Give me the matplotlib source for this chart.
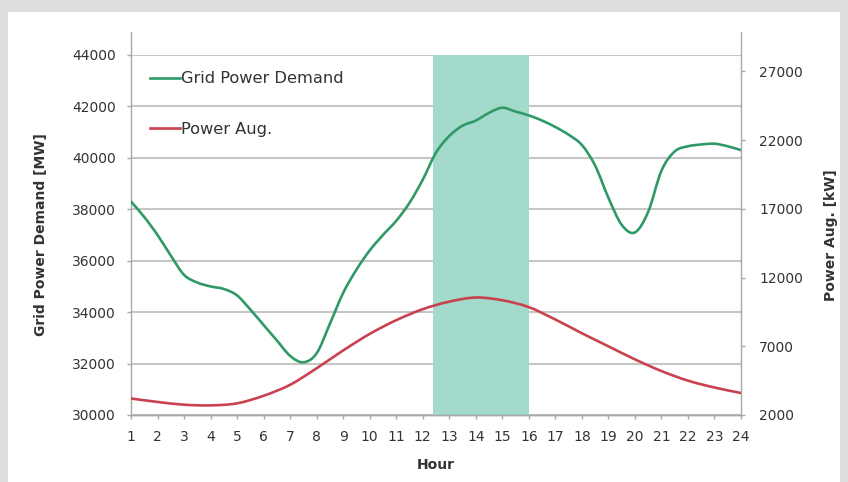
import matplotlib
matplotlib.use("Agg")
import matplotlib.pyplot as plt
from matplotlib.patches import Rectangle, PathPatch
from matplotlib.path import Path
from matplotlib.lines import Line2D

# ---- data ----
hours_demand = [1, 1.5, 2, 2.5, 3, 3.5, 4, 4.5, 5, 5.5, 6, 6.5, 7, 7.5, 8, 8.5,
                9, 9.5, 10, 10.5, 11, 11.5, 12, 12.5, 13, 13.5, 14, 14.5, 15,
                15.5, 16, 16.5, 17, 17.5, 18, 18.5, 19, 19.5, 20, 20.5, 21,
                21.5, 22, 22.5, 23, 23.5, 24]
grid_demand = [38300, 37700, 37000, 36200, 35450, 35150, 35000, 34900, 34650,
               34100, 33500, 32900, 32300, 32050, 32400, 33550, 34750, 35650,
               36400, 37000, 37550, 38250, 39150, 40200, 40850, 41250, 41450,
               41750, 41950, 41800, 41650, 41450, 41200, 40900, 40500, 39700,
               38450, 37400, 37100, 37900, 39500, 40250, 40450, 40520, 40550,
               40450, 40300]

hours_aug = list(range(1, 25))
power_aug = [3200, 2950, 2750, 2700, 2850, 3400, 4200, 5400, 6700, 7900, 8900,
             9700, 10250, 10550, 10350, 9850, 8950, 7950, 7000, 6050, 5200,
             4500, 4000, 3600]

peak_window = [12.4, 16.0]
left_ticks = [30000, 32000, 34000, 36000, 38000, 40000, 42000, 44000]
right_ticks = [2000, 7000, 12000, 17000, 22000, 27000]
x_ticks = list(range(1, 25))

GREEN = "#2f9a68"
RED = "#c9424f"
SHADE = "#a4dacb"
TXT = "#333333"
GRID = "#c6c6c6"
SPINE = "#a8a8a8"


def smooth_path(xs, ys):
    """Excel-style smoothed line: cubic Bezier segments through the points."""
    n = len(xs)
    verts = [(xs[0], ys[0])]
    codes = [Path.MOVETO]
    for i in range(n - 1):
        x0, y0 = (xs[i - 1], ys[i - 1]) if i > 0 else (xs[i], ys[i])
        x1, y1 = xs[i], ys[i]
        x2, y2 = xs[i + 1], ys[i + 1]
        x3, y3 = (xs[i + 2], ys[i + 2]) if i + 2 < n else (x2, y2)
        c1 = (x1 + (x2 - x0) / 6.0, y1 + (y2 - y0) / 6.0)
        c2 = (x2 - (x3 - x1) / 6.0, y2 - (y3 - y1) / 6.0)
        verts += [c1, c2, (x2, y2)]
        codes += [Path.CURVE4] * 3
    return Path(verts, codes)


fig = plt.figure(figsize=(8.48, 4.82), dpi=100)
fig.patch.set_facecolor("#dedede")
fig.patches.append(Rectangle((8 / 848, 0), (840 - 8) / 848, 1 - 12 / 482,
                             transform=fig.transFigure, facecolor="white",
                             edgecolor="none", zorder=-10))

L, R, T, B = 131, 741, 55, 415
ax1 = fig.add_axes([L / 848, 1 - B / 482, (R - L) / 848, (B - T) / 482])
ax1.set_facecolor("none")
ax2 = ax1.twinx()
ax2.set_facecolor("none")

ax1.axvspan(peak_window[0], peak_window[1], color=SHADE, zorder=1, lw=0)
ax1.add_patch(PathPatch(smooth_path(hours_demand, grid_demand), facecolor="none",
                        edgecolor=GREEN, lw=1.9, zorder=3, capstyle="round"))
ax2.add_patch(PathPatch(smooth_path(hours_aug, power_aug), facecolor="none",
                        edgecolor=RED, lw=1.9, zorder=3, capstyle="round"))

ax1.set_xlim(1, 24)
ax1.set_ylim(30000, 44000)
ax2.set_ylim(2000, 28200)
ax1.set_xticks(x_ticks)
ax1.set_yticks(left_ticks)
ax2.set_yticks(right_ticks)

ax1.yaxis.grid(True, color=GRID, lw=1.5, zorder=0)
ax1.set_axisbelow(True)

for ax in (ax1, ax2):
    for s in ax.spines.values():
        s.set_color(SPINE)
        s.set_linewidth(1.0)
    ax.spines["top"].set_visible(False)
ax1.spines["left"].set_bounds(30000, 44900)
ax2.spines["right"].set_bounds(2000, 29870)
ax1.spines["right"].set_visible(False)
ax2.spines["left"].set_visible(False)

ax1.tick_params(axis="both", colors=SPINE, labelcolor=TXT, labelsize=10,
                length=3, width=1, direction="out")
ax1.tick_params(axis="y", pad=8)
ax1.tick_params(axis="x", pad=8)
ax2.tick_params(axis="y", colors=SPINE, labelcolor=TXT, labelsize=10,
                length=3, width=1, direction="out", pad=10)

ax1.set_ylabel("Grid Power Demand [MW]", fontsize=10, fontweight="bold",
               color=TXT, labelpad=17)
ax2.set_ylabel("Power Aug. [kW]", fontsize=10, fontweight="bold",
               color=TXT, labelpad=15)
ax1.set_xlabel("Hour", fontsize=10, fontweight="bold", color=TXT, labelpad=10)

handles = [Line2D([], [], color=GREEN, lw=1.9), Line2D([], [], color=RED, lw=1.9)]
leg = ax2.legend(handles, ["Grid Power Demand", "Power Aug."], loc="upper left",
                 bbox_to_anchor=(0.031, 0.955), frameon=False, fontsize=11.7,
                 borderpad=0, borderaxespad=0, handlelength=1.85,
                 handletextpad=0.05, labelspacing=2.2)
for t in leg.get_texts():
    t.set_color(TXT)

fig.savefig("out.png", dpi=100, facecolor=fig.get_facecolor())
